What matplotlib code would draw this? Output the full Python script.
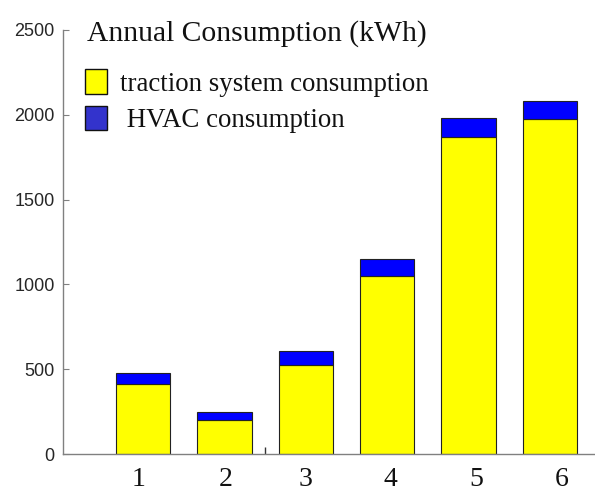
import matplotlib
matplotlib.use("Agg")
import matplotlib.pyplot as plt
from matplotlib.patches import Patch

categories = ["1", "2", "3", "4", "5", "6"]
traction = [413, 200, 525, 1051, 1871, 1973]
hvac = [63, 49, 82, 99, 108, 110]
label_pos = [0.94, 2.02, 3.0, 4.04, 5.1, 6.14]
y_ticks = [0, 500, 1000, 1500, 2000, 2500]

fig = plt.figure(figsize=(5.95, 4.94), dpi=100)
ax = fig.add_axes([63/595, 1-454/494, (595-63)/595, (454-30)/494])

x = list(range(1, len(categories) + 1))
ax.bar(x, traction, width=0.67, color="#FFFF00", edgecolor="#222222", linewidth=0.8, zorder=2)
ax.bar(x, hvac, bottom=traction, width=0.67, color="#0000FF", edgecolor="#222222", linewidth=0.8, zorder=2)

ax.set_xlim(0.017, 6.553)
ax.set_ylim(0, 2500)
ax.set_yticks(y_ticks)
ax.set_yticklabels([str(v) for v in y_ticks], fontfamily="Liberation Sans", fontsize=13, color="#262626")
ax.tick_params(axis="y", direction="in", length=4, width=0.8, color="#808080", pad=6)

ax.set_xticks(label_pos)
ax.set_xticklabels(categories, fontfamily="Liberation Serif", fontsize=20, color="#111111")
ax.tick_params(axis="x", which="major", length=0, pad=9.5)
ax.set_xticks([2.5], minor=True)
ax.tick_params(axis="x", which="minor", direction="in", length=5, width=1.0, color="#333333")

for s in ["top", "right"]:
    ax.spines[s].set_visible(False)
for s in ["left", "bottom"]:
    ax.spines[s].set_color("#808080")
    ax.spines[s].set_linewidth(1.0)

ax.text(87/595, 1-41/494, "Annual Consumption (kWh)", transform=fig.transFigure,
        fontfamily="Liberation Serif", fontsize=21.3, ha="left", va="baseline", color="#111111")

handles = [Patch(facecolor="#FFFF00", edgecolor="#111111", linewidth=1.0),
           Patch(facecolor="#3333CC", edgecolor="#111111", linewidth=1.0)]
labels = ["traction system consumption", " HVAC consumption"]
leg = ax.legend(handles, labels, loc="upper left", bbox_to_anchor=(80/595, 1-64/494),
                bbox_transform=fig.transFigure, frameon=False,
                prop={"family": "Liberation Serif", "size": 19.4},
                handlelength=0.8, handleheight=1.0, handletextpad=0.5, labelspacing=0.33,
                borderpad=0.2, borderaxespad=0)
for t in leg.get_texts():
    t.set_color("#111111")

fig.savefig("out.png", dpi=100)
